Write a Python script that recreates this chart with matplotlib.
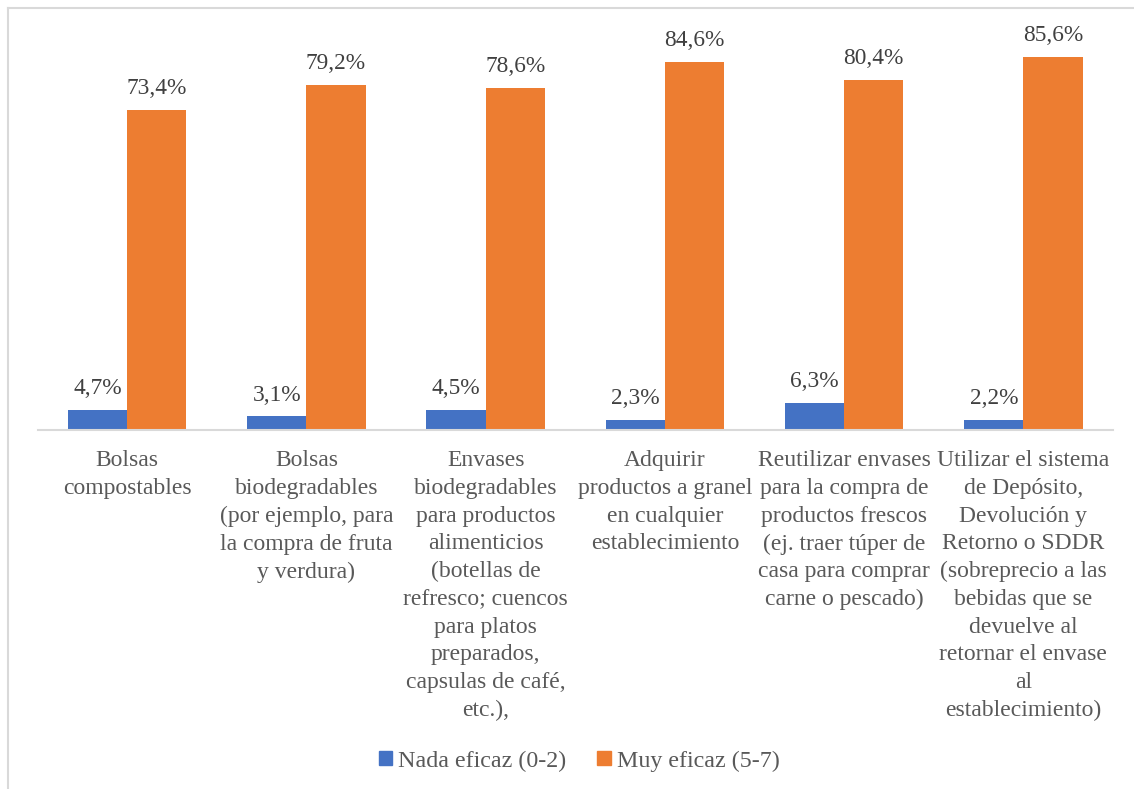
import matplotlib.pyplot as plt
import numpy as np
from matplotlib.lines import Line2D
from matplotlib.patches import Patch

plt.rcParams['font.family'] = ['Liberation Serif', 'DejaVu Serif']

categorias = [
    "Bolsas\ncompostables",
    "Bolsas\nbiodegradables\n(por ejemplo, para\nla compra de fruta\ny verdura)",
    "Envases\nbiodegradables\npara productos\nalimenticios\n(botellas de\nrefresco; cuencos\npara platos\npreparados,\ncapsulas de café,\netc.),",
    "Adquirir\nproductos a granel\nen cualquier\nestablecimiento",
    "Reutilizar envases\npara la compra de\nproductos frescos\n(ej. traer túper de\ncasa para comprar\ncarne o pescado)",
    "Utilizar el sistema\nde Depósito,\nDevolución y\nRetorno o SDDR\n(sobreprecio a las\nbebidas que se\ndevuelve al\nretornar el envase\nal\nestablecimiento)",
]
nada_eficaz = [4.7, 3.1, 4.5, 2.3, 6.3, 2.2]
muy_eficaz = [73.4, 79.2, 78.6, 84.6, 80.4, 85.6]
series = ["Nada eficaz (0-2)", "Muy eficaz (5-7)"]
colores = ["#4472C4", "#ED7D31"]

W, H = 1134, 789
fig = plt.figure(figsize=(W / 100, H / 100), dpi=100)
ax = fig.add_axes([37.5 / W, (H - 430) / H, (1113 - 37.5) / W, (430 - 38) / H])

x = np.arange(len(categorias))
ancho = 0.33
b1 = ax.bar(x - ancho / 2, nada_eficaz, ancho, color=colores[0])
b2 = ax.bar(x + ancho / 2, muy_eficaz, ancho, color=colores[1])

for barras, valores in ((b1, nada_eficaz), (b2, muy_eficaz)):
    for b, v in zip(barras, valores):
        ax.annotate(f"{v:.1f}%".replace(".", ","),
                    (b.get_x() + b.get_width() / 2, v),
                    xytext=(0, 11.5), textcoords="offset points",
                    ha="center", va="baseline", fontsize=16.8, color="#404040")

ax.set_xlim(-0.5, len(categorias) - 0.5)
ax.set_ylim(0, 90)
ax.set_yticks([])
ax.set_xticks(x)
ax.set_xticklabels(categorias, fontsize=17, color="#595959", linespacing=1.42)
ax.tick_params(axis="x", length=0, pad=14.5)
for s in ["top", "right", "left"]:
    ax.spines[s].set_visible(False)
ax.spines["bottom"].set_color("#D9D9D9")
ax.spines["bottom"].set_linewidth(1.5)

handles = [Patch(color=c) for c in colores]
fig.legend(handles, series, loc="center", bbox_to_anchor=(579 / W, (H - 761) / H),
           ncol=2, frameon=False, fontsize=17.3, labelcolor="#595959",
           handlelength=0.55, handleheight=0.55, handletextpad=0.25, columnspacing=1.3)

# marco del gráfico
fig.add_artist(Line2D([7.5 / W, 7.5 / W], [0, (H - 8) / H], color="#D9D9D9", lw=1.5))
fig.add_artist(Line2D([7.5 / W, 1], [(H - 8) / H, (H - 8) / H], color="#D9D9D9", lw=1.5))

fig.savefig("out.png", dpi=100)
